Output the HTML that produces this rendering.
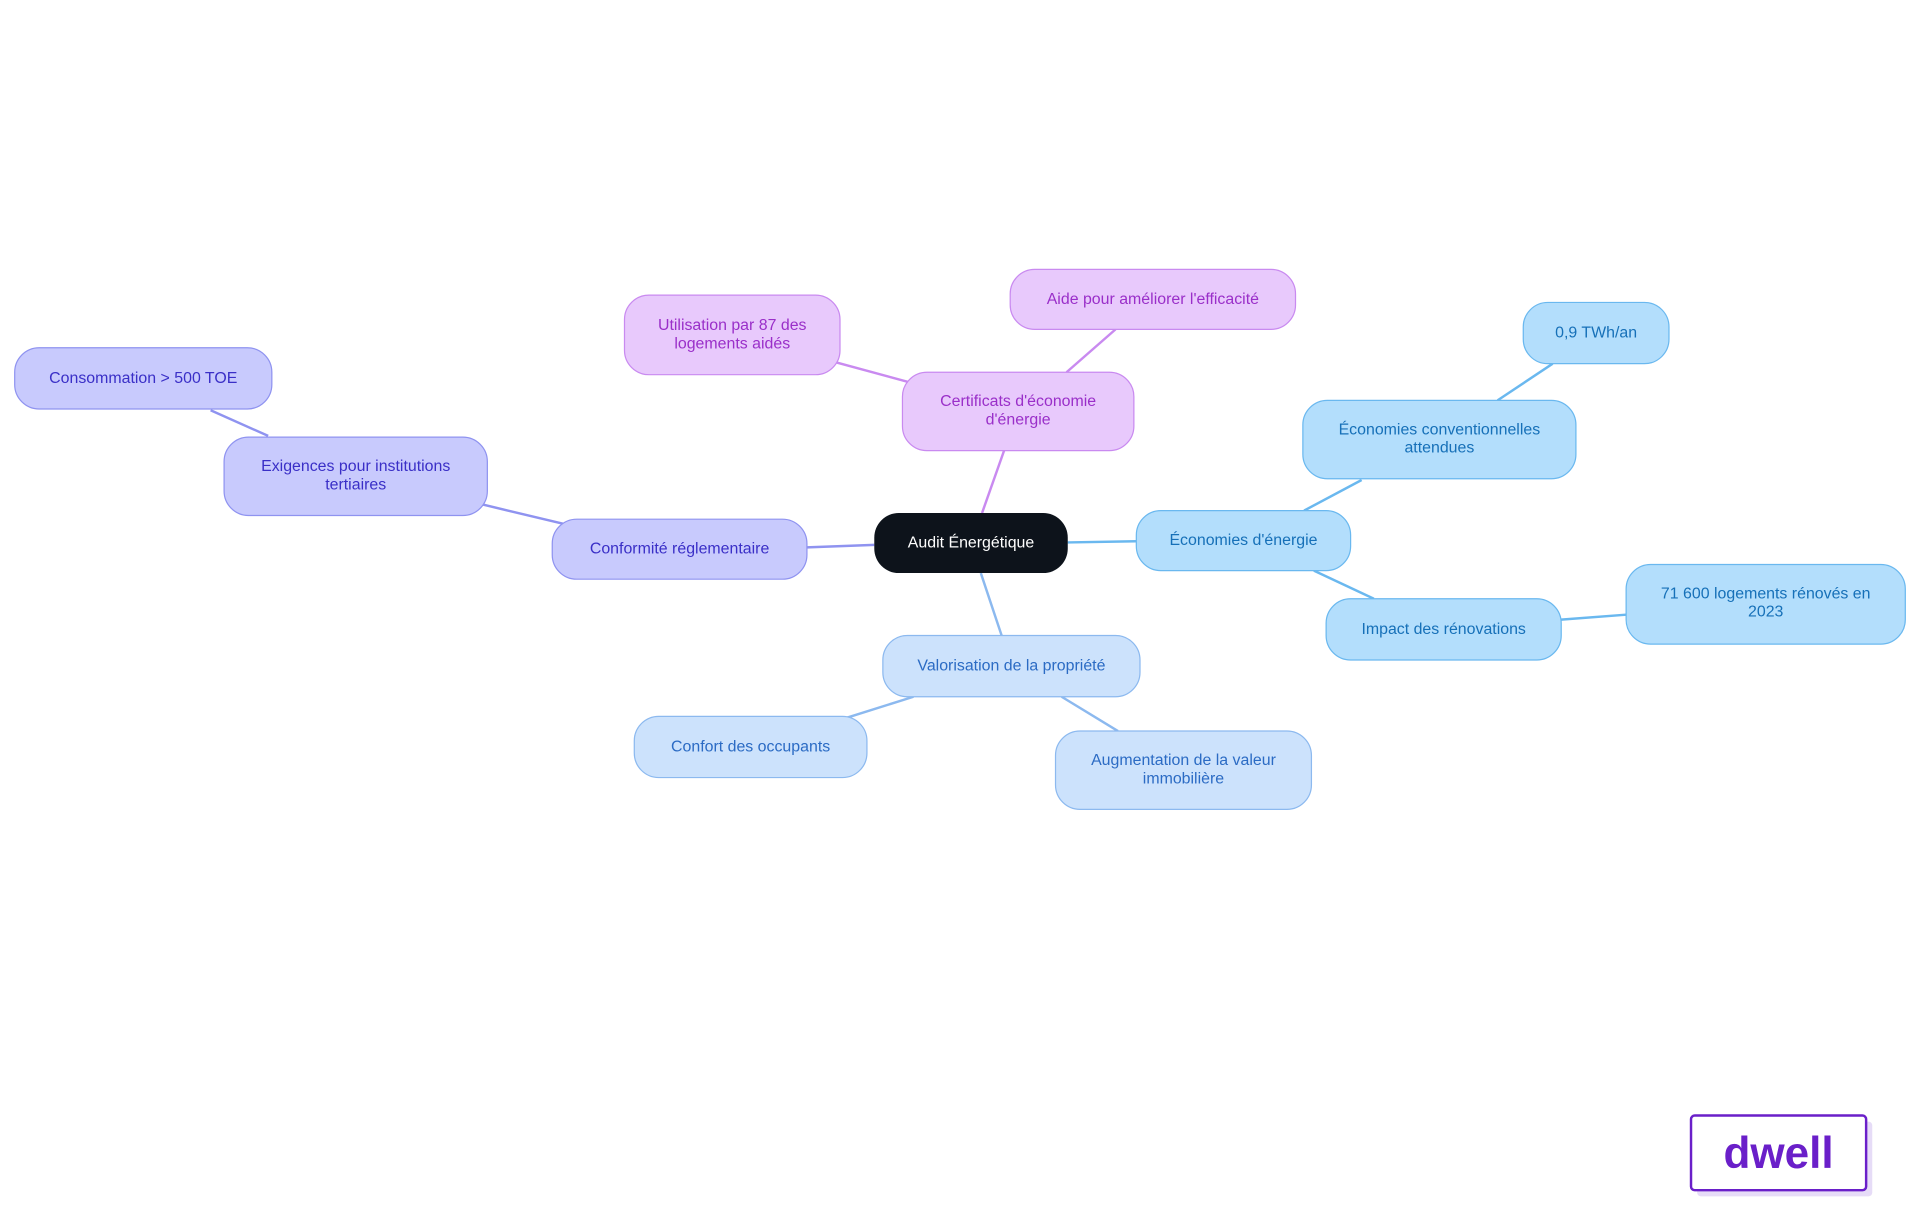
<!DOCTYPE html>
<html><head><meta charset="utf-8"><style>
html,body{margin:0;padding:0;background:#fff;width:1920px;height:1215px;overflow:hidden}
svg{display:block}
text{font-family:"Liberation Sans",sans-serif;font-size:13px;text-anchor:middle;dominant-baseline:central}
</style></head><body>
<svg width="1920" height="1215" viewBox="0 0 1568 992.25" xmlns="http://www.w3.org/2000/svg">
<g stroke-width="2" fill="none">
<line x1="714" y1="445" x2="659" y2="447" stroke="#8f93f0"/>
<line x1="461" y1="428" x2="394" y2="412" stroke="#8f93f0"/>
<line x1="219" y1="356" x2="172" y2="335" stroke="#8f93f0"/>
<line x1="802" y1="419" x2="820" y2="368" stroke="#c98af0"/>
<line x1="742" y1="312" x2="683" y2="296" stroke="#c98af0"/>
<line x1="871" y1="304" x2="911" y2="269" stroke="#c98af0"/>
<line x1="872" y1="443" x2="928" y2="442" stroke="#6ab8ef"/>
<line x1="1065" y1="417" x2="1112" y2="392" stroke="#6ab8ef"/>
<line x1="1223" y1="327" x2="1268" y2="297" stroke="#6ab8ef"/>
<line x1="1073" y1="466" x2="1122" y2="489" stroke="#6ab8ef"/>
<line x1="1275" y1="506" x2="1328" y2="502" stroke="#6ab8ef"/>
<line x1="801" y1="468" x2="818" y2="519" stroke="#8cb9ef"/>
<line x1="746" y1="569" x2="692" y2="586" stroke="#8cb9ef"/>
<line x1="867" y1="569" x2="913" y2="597" stroke="#8cb9ef"/>
</g>
<rect x="714" y="419" width="158" height="49" rx="20" fill="#0d131b"/>
<text x="793" y="443.5" fill="#fff">Audit Énergétique</text>
<g fill="#c8cafd" stroke="#8f93f0" stroke-width="1">
<rect x="451" y="424" width="208" height="49" rx="20"/>
<rect x="183" y="357" width="215" height="64" rx="20"/>
<rect x="12" y="284" width="210" height="50" rx="20"/>
</g>
<g fill="#3a2fc7">
<text x="555" y="448.5">Conformité réglementaire</text>
<text x="290.5" y="381">Exigences pour institutions</text>
<text x="290.5" y="396">tertiaires</text>
<text x="117" y="309">Consommation &gt; 500 TOE</text>
</g>
<g fill="#e8c9fc" stroke="#c98af0" stroke-width="1">
<rect x="737" y="304" width="189" height="64" rx="20"/>
<rect x="510" y="241" width="176" height="65" rx="20"/>
<rect x="825" y="220" width="233" height="49" rx="20"/>
</g>
<g fill="#9a2fc9">
<text x="831.5" y="328">Certificats d'économie</text>
<text x="831.5" y="343">d'énergie</text>
<text x="598" y="266">Utilisation par 87 des</text>
<text x="598" y="281">logements aidés</text>
<text x="941.5" y="244.5">Aide pour améliorer l'efficacité</text>
</g>
<g fill="#b3defc" stroke="#6ab8ef" stroke-width="1">
<rect x="928" y="417" width="175" height="49" rx="20"/>
<rect x="1064" y="327" width="223" height="64" rx="20"/>
<rect x="1244" y="247" width="119" height="50" rx="20"/>
<rect x="1083" y="489" width="192" height="50" rx="20"/>
<rect x="1328" y="461" width="228" height="65" rx="20"/>
</g>
<g fill="#1670b8">
<text x="1015.5" y="441.5">Économies d'énergie</text>
<text x="1175.5" y="351">Économies conventionnelles</text>
<text x="1175.5" y="366">attendues</text>
<text x="1303.5" y="272">0,9 TWh/an</text>
<text x="1179" y="514">Impact des rénovations</text>
<text x="1442" y="485">71 600 logements rénovés en</text>
<text x="1442" y="500">2023</text>
</g>
<g fill="#cce2fc" stroke="#8cb9ef" stroke-width="1">
<rect x="721" y="519" width="210" height="50" rx="20"/>
<rect x="518" y="585" width="190" height="50" rx="20"/>
<rect x="862" y="597" width="209" height="64" rx="20"/>
</g>
<g fill="#2b6bc4">
<text x="826" y="544">Valorisation de la propriété</text>
<text x="613" y="610">Confort des occupants</text>
<text x="966.5" y="621">Augmentation de la valeur</text>
<text x="966.5" y="636">immobilière</text>
</g>
<rect x="1386" y="916" width="143" height="61" rx="3" fill="#e6dcf7"/>
<rect x="1381" y="911" width="143" height="61" rx="3" fill="#fff" stroke="#6a1fc9" stroke-width="2"/>
<text x="1452.5" y="942" fill="#6a1fc9" style="font-size:36px;font-weight:600">dwell</text>
</svg>
</body></html>
